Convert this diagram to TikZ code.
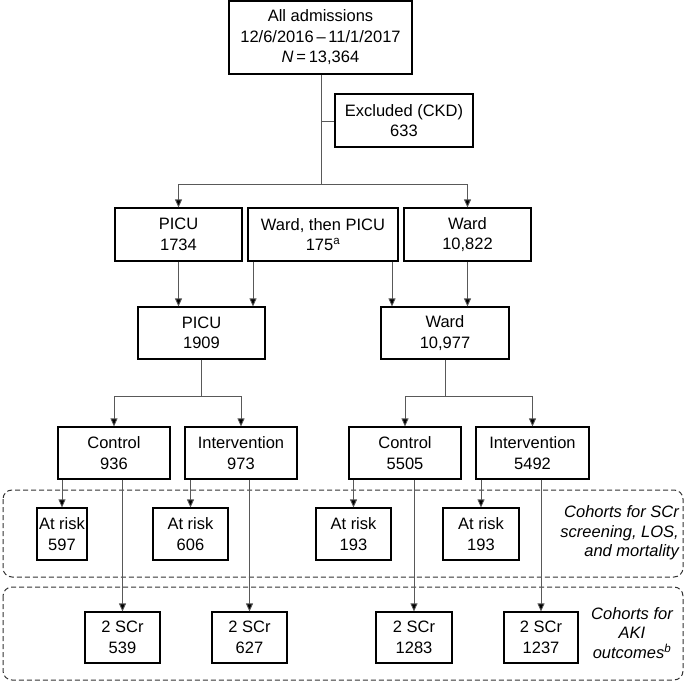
\documentclass[tikz,border=0pt]{standalone}
\usepackage{fontspec}
\setmainfont{Liberation Sans}
\usetikzlibrary{arrows.meta}
\begin{document}
\begin{tikzpicture}[x=1pt,y=-1pt,
  box/.style={draw=black,line width=1.1pt,align=center,inner sep=0pt,
    font=\fontsize{16.5}{20.5}\selectfont},
  conn/.style={draw=black!65,line width=0.8pt},
  arr/.style={conn,-{Triangle[length=8pt,width=7pt,fill=black]}},
  grp/.style={draw=black!80,line width=1pt,dash pattern=on 5pt off 3pt,rounded corners=9pt},
  lab/.style={font=\fontsize{16.5}{19.5}\selectfont\itshape,inner sep=0pt}]
\useasboundingbox (0,0) rectangle (685,682);
% groups
\draw[grp] (3,490) rectangle (683,577);
\draw[grp] (3,587) rectangle (683,680);
% nodes
\node[box,minimum width=183pt,minimum height=73pt] (all) at (320.5,37.5) {All admissions\\12/6/2016\,–\,11/1/2017\\\textit{N}\,=\,13,364};
\node[box,minimum width=138pt,minimum height=53pt] (exc) at (404,120.5) {Excluded (CKD)\\633};
\node[box,minimum width=127pt,minimum height=53pt] (picuA) at (178.5,234.5) {PICU\\1734};
\node[box,minimum width=150pt,minimum height=53pt] (wtp) at (323,234.5) {Ward, then PICU\\175\textsuperscript{a}};
\node[box,minimum width=127pt,minimum height=53pt] (wardA) at (467.5,234.5) {Ward\\10,822};
\node[box,minimum width=127pt,minimum height=52pt] (picuB) at (201.5,333) {PICU\\1909};
\node[box,minimum width=128pt,minimum height=52pt] (wardB) at (445,333) {Ward\\10,977};
\node[box,minimum width=112pt,minimum height=52pt] (c1) at (114,453) {Control\\936};
\node[box,minimum width=112pt,minimum height=52pt] (i1) at (241,453) {Intervention\\973};
\node[box,minimum width=112pt,minimum height=52pt] (c2) at (405,453) {Control\\5505};
\node[box,minimum width=113pt,minimum height=52pt] (i2) at (532.5,453) {Intervention\\5492};
\node[box,minimum width=50pt,minimum height=52pt] (r1) at (62,534) {At risk\\597};
\node[box,minimum width=75pt,minimum height=52pt] (r2) at (190.5,534) {At risk\\606};
\node[box,minimum width=75pt,minimum height=52pt] (r3) at (353.5,534) {At risk\\193};
\node[box,minimum width=76pt,minimum height=52pt] (r4) at (481,534) {At risk\\193};
\node[box,minimum width=75pt,minimum height=51pt] (s1) at (122.5,637.5) {2 SCr\\539};
\node[box,minimum width=75pt,minimum height=51pt] (s2) at (249.5,637.5) {2 SCr\\627};
\node[box,minimum width=76pt,minimum height=51pt] (s3) at (414,637.5) {2 SCr\\1283};
\node[box,minimum width=74pt,minimum height=51pt] (s4) at (541,637.5) {2 SCr\\1237};
% labels
\node[lab,align=right,anchor=east] (l1) at (679,533) {Cohorts for SCr\\screening, LOS,\\and mortality};
\node[lab,align=center] (l2) at (632,633) {Cohorts for\\AKI\\outcomes\textsuperscript{\itshape b}};
% top split
\coordinate (j0) at (321,184);
\coordinate (jx) at (321,121);
\draw[conn] (all.south -| j0) -- (j0);
\draw[conn] (jx) -- (exc.west |- jx);
\draw[conn] (picuA.north |- j0) -- (wardA.north |- j0);
\draw[arr] (picuA.north |- j0) -- (picuA.north);
\draw[arr] (wardA.north |- j0) -- (wardA.north);
% row2 -> row3
\draw[arr] (picuA.south) -- (picuA.south |- picuB.north);
\coordinate (w1) at (253,0);
\coordinate (w2) at (392,0);
\draw[arr] (wtp.south -| w1) -- (picuB.north -| w1);
\draw[arr] (wtp.south -| w2) -- (wardB.north -| w2);
\draw[arr] (wardA.south) -- (wardA.south |- wardB.north);
% row3 -> row4
\coordinate (j1) at (201.5,396);
\coordinate (j2) at (445,396);
\draw[conn] (picuB.south) -- (j1);
\draw[conn] (c1.north |- j1) -- (i1.north |- j1);
\draw[arr] (c1.north |- j1) -- (c1.north);
\draw[arr] (i1.north |- j1) -- (i1.north);
\draw[conn] (wardB.south) -- (j2);
\draw[conn] (c2.north |- j2) -- (i2.north |- j2);
\draw[arr] (c2.north |- j2) -- (c2.north);
\draw[arr] (i2.north |- j2) -- (i2.north);
% row4 -> at risk
\draw[arr] (c1.south -| r1.north) -- (r1.north);
\draw[arr] (i1.south -| r2.north) -- (r2.north);
\draw[arr] (c2.south -| r3.north) -- (r3.north);
\draw[arr] (i2.south -| r4.north) -- (r4.north);
% row4 -> 2 SCr
\draw[arr] (c1.south -| s1.north) -- (s1.north);
\draw[arr] (i1.south -| s2.north) -- (s2.north);
\draw[arr] (c2.south -| s3.north) -- (s3.north);
\draw[arr] (i2.south -| s4.north) -- (s4.north);
\end{tikzpicture}
\end{document}
